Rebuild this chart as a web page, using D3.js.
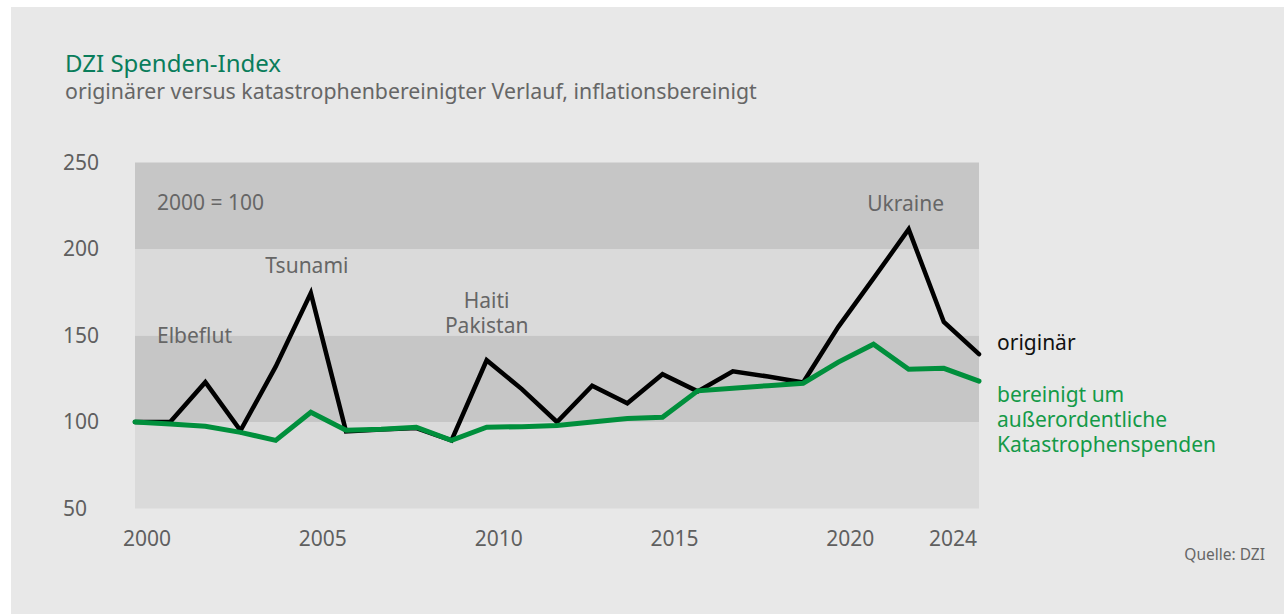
<!DOCTYPE html>
<html>
<head>
<meta charset="utf-8">
<script src="https://cdn.jsdelivr.net/npm/d3@7"></script>
<style>
  body { margin: 0; background: #fff; }
  svg { display: block; font-family: "Noto Sans", "Open Sans", sans-serif; }
</style>
</head>
<body>
<script>
var years = [2000,2001,2002,2003,2004,2005,2006,2007,2008,2009,2010,2011,2012,2013,2014,2015,2016,2017,2018,2019,2020,2021,2022,2023,2024];
var original = [100,100,123,95,132,174.5,94.6,95.6,96.5,89.4,135.7,119,100,121,110.8,127.6,117.7,129.3,126.3,122.8,155,183,211.4,157.8,139.2];
var adjusted = [100,98.8,97.5,94,89.4,105.6,95.2,95.8,97,89.4,97,97.3,98,100,102,102.7,118,119.5,121,122.4,134.6,145,130.5,131,123.6];
var yTicks = [50,100,150,200,250];
var xTicks = [2000,2005,2010,2015,2020,2024];
var bands = [[50,100],[100,150],[150,200],[200,250]];
var events = [
  {year: 2002, value: 150, lines: ["Elbeflut"]},
  {year: 2005, value: 190.5, lines: ["Tsunami"]},
  {year: 2010, value: 170, lines: ["Haiti", "Pakistan"]},
  {year: 2022, value: 226.5, lines: ["Ukraine"]}
];

var W = 1284, H = 614;
var svg = d3.select('body').append('svg').attr('width', W).attr('height', H);

svg.append('rect').attr('x', 11).attr('y', 7).attr('width', W - 11).attr('height', H - 7).attr('fill', '#e8e8e8');

var x = d3.scaleLinear().domain([2000, 2024]).range([135, 979]);
var y = d3.scaleLinear().domain([50, 250]).range([508.5, 162.5]);

var g = svg.append('g');

// alternating bands
g.selectAll('rect.band').data(bands).enter().append('rect')
  .attr('class', 'band')
  .attr('x', x(2000)).attr('width', x(2024) - x(2000))
  .attr('y', function (d) { return y(d[1]); })
  .attr('height', function (d) { return y(d[0]) - y(d[1]); })
  .attr('fill', function (d, i) { return i % 2 ? '#c6c6c6' : '#dadada'; });

// y labels
g.selectAll('text.ytick').data(yTicks).enter().append('text')
  .attr('x', 63).attr('y', function (d) { return y(d); })
  .attr('dy', '0.35em').attr('font-size', 21).attr('fill', '#5f5f5f')
  .text(function (d) { return d; });

// x labels
g.selectAll('text.xtick').data(xTicks).enter().append('text')
  .attr('x', function (d, i) { return i === xTicks.length - 1 ? x(d) - 2 : x(d) + 12; })
  .attr('y', 539).attr('dy', '0.35em').attr('font-size', 21).attr('fill', '#5f5f5f')
  .attr('text-anchor', function (d, i) { return i === xTicks.length - 1 ? 'end' : 'middle'; })
  .text(function (d) { return d; });

g.append('text').attr('x', 157).attr('y', 203).attr('dy', '0.35em')
  .attr('font-size', 21).attr('fill', '#666').text('2000 = 100');

// event annotations, one text per line
function evX(year) { return year === 2002 ? 157 : x(year) - (year === 2005 ? 4 : year === 2022 ? 3 : 0); }
events.forEach(function (d) {
  d.lines.forEach(function (l, i) {
    g.append('text')
      .attr('font-size', 21).attr('fill', '#666')
      .attr('text-anchor', d.year === 2002 ? 'start' : 'middle')
      .attr('x', evX(d.year))
      .attr('y', y(d.value) + i * 25)
      .attr('dy', '0.35em')
      .text(l);
  });
});

var line = d3.line()
  .x(function (d, i) { return x(years[i]); })
  .y(function (d) { return y(d); });

g.append('path').attr('d', line(original)).attr('fill', 'none')
  .attr('stroke', '#000').attr('stroke-width', 4.5).attr('stroke-linejoin', 'miter').attr('stroke-linecap', 'round');
g.append('path').attr('d', line(adjusted)).attr('fill', 'none')
  .attr('stroke', '#008f3c').attr('stroke-width', 5).attr('stroke-linejoin', 'miter').attr('stroke-linecap', 'round');

// legend labels
g.append('text').attr('x', 997).attr('y', 343).attr('dy', '0.35em')
  .attr('font-size', 21).attr('fill', '#111').text('originär');
['bereinigt um', 'außerordentliche', 'Katastrophenspenden'].forEach(function (t, i) {
  g.append('text').attr('x', 997).attr('y', 395 + i * 25).attr('dy', '0.35em')
    .attr('font-size', 21).attr('fill', '#149a48').text(t);
});

// titles
svg.append('text').attr('x', 65).attr('y', 72).attr('font-size', 24).attr('fill', '#0a7d5b').text('DZI Spenden-Index');
svg.append('text').attr('x', 65).attr('y', 99).attr('font-size', 21.3).attr('fill', '#666')
  .text('originärer versus katastrophenbereinigter Verlauf, inflationsbereinigt');
svg.append('text').attr('x', 1265).attr('y', 555).attr('dy', '0.35em').attr('text-anchor', 'end')
  .attr('font-size', 15.5).attr('fill', '#666').text('Quelle: DZI');
</script>
</body>
</html>
